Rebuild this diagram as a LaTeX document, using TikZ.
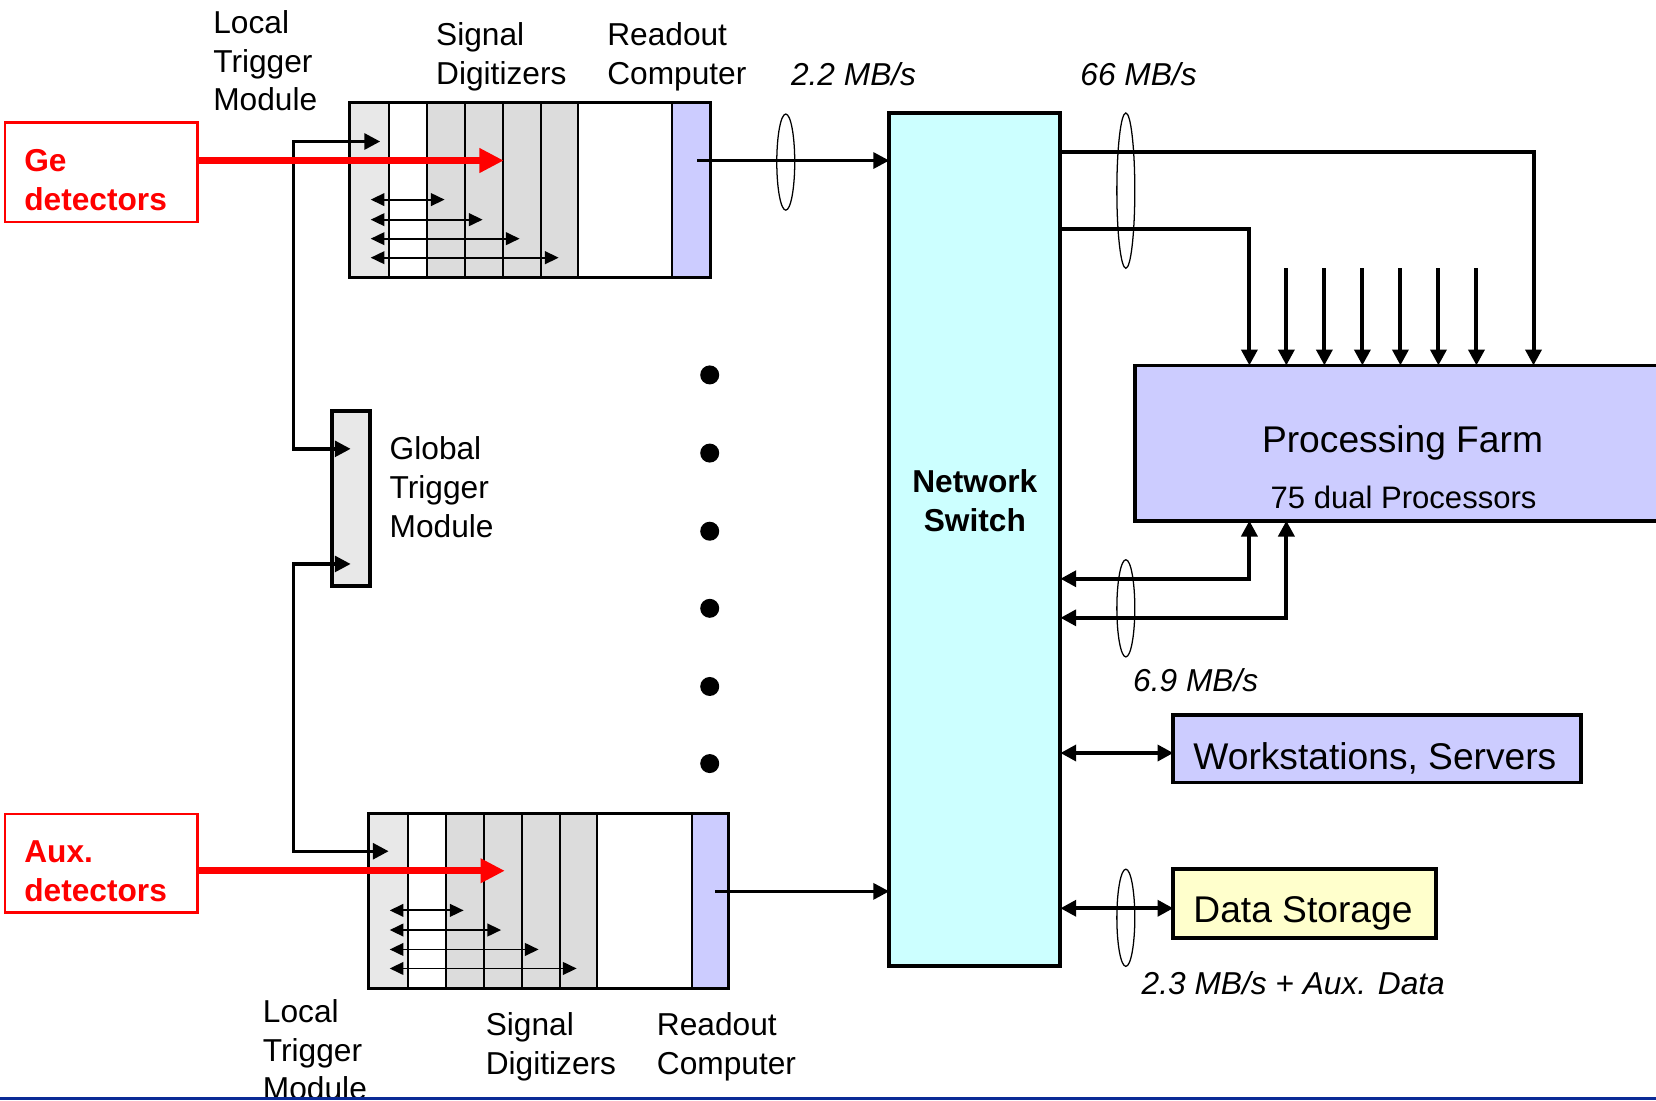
\documentclass[tikz,border=0pt]{standalone}
\usepackage{fontspec}
\setmainfont{Liberation Sans}
\usetikzlibrary{arrows.meta}
\definecolor{grayA}{HTML}{E8E8E8}
\definecolor{grayB}{HTML}{DCDCDC}
\definecolor{lav}{HTML}{CCCCFF}
\definecolor{cyanbox}{HTML}{CCFFFF}
\definecolor{yelbox}{HTML}{FFFFCC}
\definecolor{barblue}{HTML}{0B2A96}
\begin{document}
\begin{tikzpicture}[x=0.5pt,y=-0.5pt,
  >={Triangle[length=7.5pt,width=7.5pt]},
  every node/.style={inner sep=0pt, outer sep=0pt},
  txt/.style={font=\fontsize{15}{18.4}\selectfont, align=left, anchor=west},
  rate/.style={font=\fontsize{15}{18.4}\selectfont\itshape, anchor=west},
  redtxt/.style={font=\fontsize{15}{18.2}\selectfont\bfseries, text=red, align=left, anchor=west},
  boxframe/.style={draw, line width=1.8pt, anchor=north west},
  redframe/.style={draw=red, line width=1pt, anchor=north west},
  conn/.style={line width=1.9pt},
  trig/.style={line width=1.6pt},
  thinarr/.style={line width=0.9pt, {Triangle[length=6.5pt,width=6pt]}-{Triangle[length=6.5pt,width=6pt]}},
  redarr/.style={draw=red, line width=3.5pt, -{Triangle[length=11.5pt,width=11pt]}, red},
  bundle/.style={line width=0.6pt},
  colline/.style={line width=0.9pt},
  dotnode/.style={circle, fill=black, minimum size=9pt},
]
\clip (0,0) rectangle (1568,1042);
\fill[white] (0,0) rectangle (1568,1042);

% ---------- top module ----------
\fill[grayA] (331,97) rectangle (368,263);
\fill[white] (368,97) rectangle (404,263);
\fill[grayB] (404,97) rectangle (547,263);
\fill[lav] (636,97) rectangle (673,263);
\foreach \x in {368,404,440,476,512,547,636} \draw[colline] (\x,97) -- (\x,263);
\node[boxframe, line width=1.6pt, minimum width=171pt, minimum height=83pt] (mod1) at (331,97) {};

% ---------- lower module ----------
\fill[grayA] (349,770) rectangle (386,936);
\fill[white] (386,770) rectangle (422,936);
\fill[grayB] (422,770) rectangle (565,936);
\fill[lav] (655,770) rectangle (690,936);
\foreach \x in {386,422,458,494,530,565,655} \draw[colline] (\x,770) -- (\x,936);
\node[boxframe, line width=1.6pt, minimum width=170.5pt, minimum height=83pt] (mod2) at (349,770) {};

% ---------- other boxes ----------
\node[boxframe, fill=grayA, minimum width=18pt, minimum height=83pt] (gtm) at (314,389) {};
\node[boxframe, fill=cyanbox, minimum width=81pt, minimum height=404pt] (sw) at (842,107) {};
\node[redframe, minimum width=91pt, minimum height=47pt] (ge) at (5,116) {};
\node[redframe, minimum width=91pt, minimum height=46.5pt] (aux) at (5,771) {};
\node[boxframe, fill=lav, minimum width=270pt, minimum height=73.5pt] (farm) at (1075,346) {};
\node[boxframe, fill=lav, minimum width=193pt, minimum height=32pt] (ws) at (1111,677) {};
\node[boxframe, fill=yelbox, minimum width=124.5pt, minimum height=32.5pt] (ds) at (1111,823) {};

% ---------- dots ----------
\foreach \y [count=\i] in {355,429,503,576,650,723} \node[dotnode] (dot\i) at (672,\y) {};

% ---------- module internal arrows ----------
\foreach \y/\r [count=\i] in {189/421,208/457,226/492,244/529} {
  \coordinate (al\i) at (351,\y); \coordinate (ar\i) at (\r,\y);
  \draw[thinarr] (al\i) -- (ar\i);
}
\foreach \y/\r [count=\i] in {862/439,880.6/474.5,899/510,917/546} {
  \coordinate (bl\i) at (369,\y); \coordinate (br\i) at (\r,\y);
  \draw[thinarr] (bl\i) -- (br\i);
}

% ---------- trigger lines ----------
\coordinate (ltm1in) at (360,134);
\coordinate (ltm2in) at (368,806);
\draw[trig,<->] (ltm1in) -- (278,134) -- (278,425) -- (gtm.center |- 0,425);
\draw[trig,<->] (gtm.center |- 0,534) -- (278,534) -- (278,806) -- (ltm2in);

% ---------- red detector arrows ----------
\coordinate (redtip1) at (477,152);
\coordinate (redtip2) at (478,824.5);
\draw[redarr] (ge.east |- redtip1) -- (redtip1);
\draw[redarr] (aux.east |- redtip2) -- (redtip2);

% ---------- readout -> switch ----------
\coordinate (ro1) at (660,152);
\coordinate (ro2) at (677,844);
\draw[trig,->] (ro1) -- (sw.west |- ro1);
\draw[trig,->] (ro2) -- (sw.west |- ro2);
\draw[bundle] (744,153.5) ellipse [x radius=4.25pt, y radius=22.75pt];

% ---------- switch -> farm ----------
\draw[conn,->] (sw.east |- 0,144) -- (1452,144) -- (farm.north -| 1452,0);
\draw[conn,->] (sw.east |- 0,217) -- (1183,217) -- (farm.north -| 1183,0);
\foreach \x [count=\i] in {1218,1254,1290,1326,1362,1398} {
  \coordinate (stub\i) at (\x,254);
  \draw[conn,->] (stub\i) -- (farm.north -| stub\i);
}
\draw[bundle] (1066,180.5) ellipse [x radius=4.25pt, y radius=36.75pt];

% ---------- farm -> switch ----------
\draw[conn,<->] (farm.south -| 1183,0) -- (1183,548) -- (sw.east |- 0,548);
\draw[conn,<->] (farm.south -| 1218,0) -- (1218,585) -- (sw.east |- 0,585);
\draw[bundle] (1066,576) ellipse [x radius=4.25pt, y radius=23pt];

% ---------- switch <-> ws, ds ----------
\draw[conn,<->] (sw.east |- 0,713) -- (ws.west |- 0,713);
\draw[conn,<->] (sw.east |- 0,860) -- (ds.west |- 0,860);
\draw[bundle] (1066,869) ellipse [x radius=4.25pt, y radius=23pt];

% ---------- texts ----------
\node[txt] (ltm1) at (202,57.5) {Local\\Trigger\\Module};
\node[txt] (sd1) at (413,53.5) {Signal\\Digitizers};
\node[txt] (rc1) at (575,53.5) {Readout\\Computer};
\node[rate] (r22) at (749,70) {2.2 MB/s};
\node[rate] (r66) at (1023,70) {66 MB/s};
\node[redtxt] (get) at (23,170.5) {Ge\\detectors};
\node[redtxt] (auxt) at (23,825) {Aux.\\detectors};
\node[txt] (gtml) at (369,461.5) {Global\\Trigger\\Module};
\node[font=\fontsize{15}{18.5}\selectfont\bfseries, align=center] (swl) at (923,474) {Network\\Switch};
\node[font=\fontsize{17.6}{21}\selectfont] (farm1) at (1328,419) {Processing Farm};
\node[font=\fontsize{14.7}{17}\selectfont] (farm2) at (1329,471) {75 dual Processors};
\node[rate] (r69) at (1073,644) {6.9 MB/s};
\node[txt, font=\fontsize{17.6}{20}\selectfont] (wsl) at (1130,718) {Workstations, Servers};
\node[txt, font=\fontsize{17.6}{21}\selectfont] (dsl) at (1130,865) {Data Storage};
\node[rate] (r23) at (1081,931) {2.3 MB/s + Aux. Data};
\node[txt] (ltm2) at (249,994) {Local\\Trigger\\Module};
\node[txt] (sd2) at (460,991.5) {Signal\\Digitizers};
\node[txt] (rc2) at (622,991.5) {Readout\\Computer};

% ---------- bottom bar ----------
\fill[barblue] (0,1038.4) rectangle (1568,1042);
\end{tikzpicture}
\end{document}
